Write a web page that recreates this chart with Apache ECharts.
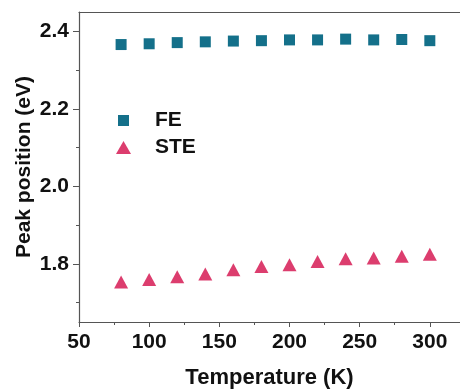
<!DOCTYPE html>
<html>
<head>
<meta charset="utf-8">
<script src="https://cdn.jsdelivr.net/npm/echarts@6/dist/echarts.min.js"></script>
<style>
html, body { margin: 0; padding: 0; background: #fff; }
#main { width: 460px; height: 391px; }
</style>
</head>
<body>
<div id="main"></div>
<script>
// data
var temps = [80, 100, 120, 140, 160, 180, 200, 220, 240, 260, 280, 300];
var feVals = [2.366, 2.368, 2.371, 2.373, 2.375, 2.376, 2.378, 2.378, 2.380, 2.378, 2.379, 2.376];
var steVals = [1.753, 1.760, 1.767, 1.774, 1.785, 1.793, 1.798, 1.806, 1.813, 1.815, 1.820, 1.825];
var yMajor = [1.8, 2.0, 2.2, 2.4];
var yMinor = [1.7, 1.9, 2.1, 2.3];
var xMinor = [75, 125, 175, 225, 275];

var font = 'Liberation Sans';
var axisCol = '#555';
var xMin = 50, xMax = 321.5;
var yMin = 1.65, yMax = 2.45;

function pairs(xs, ys) {
    return xs.map(function (x, i) { return [x, ys[i]]; });
}

var myChart = echarts.init(document.getElementById('main'));

option = {
    animation: false,
    grid: {
        left: 79, top: 12, right: 0, bottom: 69,
        outerBoundsMode: 'none'
    },
    legend: {
        orient: 'vertical',
        left: 111, top: 105,
        itemWidth: 15, itemHeight: 13, itemGap: 6,
        symbolKeepAspect: false,
        textStyle: { fontFamily: font, fontSize: 21, fontWeight: 'bold', color: '#111', padding: [0, 0, 0, 19] },
        data: [
            // square drawn smaller than the icon box
            { name: 'FE', icon: 'path://M0,0M15,13M2,1h11v11h-11z' },
            { name: 'STE', icon: 'triangle' }
        ]
    },
    xAxis: [{
        type: 'value', min: xMin, max: xMax, interval: 50,
        name: 'Temperature (K)', nameLocation: 'middle', nameGap: 45,
        nameMoveOverlap: false,
        nameTextStyle: { fontFamily: font, fontSize: 22, fontWeight: 'bold', color: '#111' },
        axisLine: { lineStyle: { color: axisCol, width: 1.2 } },
        axisTick: { length: 5, lineStyle: { color: axisCol } },
        axisLabel: { fontFamily: font, fontSize: 21, fontWeight: 'bold', color: '#111', margin: 10, showMaxLabel: false },
        splitLine: { show: false }
    }, {
        type: 'value', min: xMin, max: xMax, position: 'bottom',
        axisLine: { show: false },
        axisTick: { length: 3, customValues: xMinor, lineStyle: { color: axisCol } },
        axisLabel: { show: false },
        splitLine: { show: false }
    }, {
        // top frame line
        type: 'value', min: xMin, max: xMax, position: 'top',
        axisLine: { show: true, lineStyle: { color: axisCol, width: 1.2 } },
        axisTick: { show: false },
        axisLabel: { show: false },
        splitLine: { show: false }
    }],
    yAxis: [{
        type: 'value', min: yMin, max: yMax,
        name: 'Peak position (eV)', nameLocation: 'middle', nameGap: 44,
        nameMoveOverlap: false,
        nameTextStyle: { fontFamily: font, fontSize: 21, fontWeight: 'bold', color: '#111' },
        axisLine: { show: true, lineStyle: { color: axisCol, width: 1.2 } },
        axisTick: { show: true, length: 6, customValues: yMajor, lineStyle: { color: axisCol } },
        axisLabel: {
            fontFamily: font, fontSize: 21, fontWeight: 'bold', color: '#111', margin: 10,
            customValues: yMajor,
            formatter: function (v) { return v.toFixed(1); }
        },
        splitLine: { show: false }
    }, {
        type: 'value', min: yMin, max: yMax, position: 'left', offset: 0,
        axisLine: { show: false },
        axisTick: { show: true, length: 3, customValues: yMinor, lineStyle: { color: axisCol } },
        axisLabel: { show: false },
        splitLine: { show: false }
    }],
    series: [{
        name: 'FE',
        type: 'scatter',
        symbol: 'rect',
        symbolSize: 11,
        itemStyle: { color: '#14708a', opacity: 1 },
        data: pairs(temps, feVals)
    }, {
        name: 'STE',
        type: 'scatter',
        symbol: 'triangle',
        symbolSize: [14, 13],
        itemStyle: { color: '#dc3d6e', opacity: 1 },
        data: pairs(temps, steVals)
    }]
};

myChart.setOption(option);
</script>
</body>
</html>
